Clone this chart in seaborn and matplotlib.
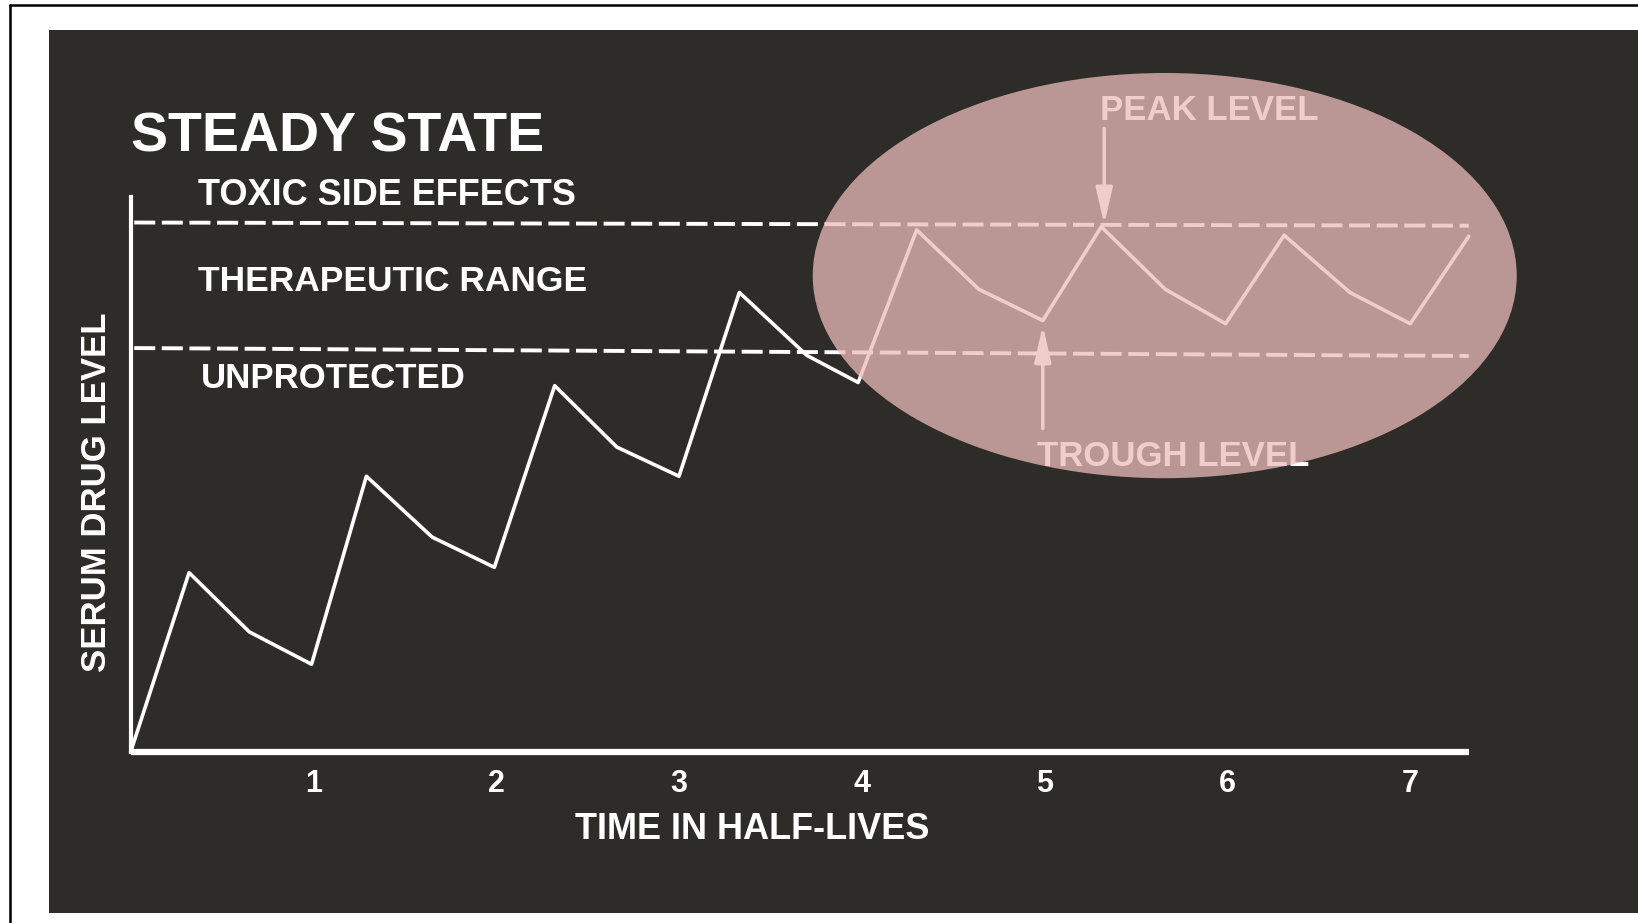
import matplotlib
matplotlib.use("Agg")
import matplotlib.pyplot as plt
import seaborn as sns
from matplotlib.patches import Ellipse
from matplotlib.lines import Line2D

# --- data (time in half-lives, serum level in arbitrary units) ---
half_lives = [0, 0.32, 0.65, 0.99, 1.29, 1.65, 1.99, 2.32, 2.66, 3.0, 3.33, 3.70,
              3.98, 4.30, 4.64, 4.99, 5.31, 5.66, 5.99, 6.31, 6.67, 7.0, 7.32]
serum_level = [0, 33.9, 22.7, 16.6, 52.1, 40.6, 34.9, 69.2, 57.6, 52.1, 86.8, 74.9,
               69.8, 98.6, 87.4, 81.5, 99.2, 87.4, 80.9, 97.6, 86.8, 80.9, 97.4]

band_x = [0.02, 7.32]
toxic_line = [100, 99.4]
therapeutic_low = [76.3, 74.8]

tick_pos = [1, 2, 3, 4, 5, 6, 7]
tick_labels = ["1", "2", "3", "4", "5", "6", "7"]

peak_t, peak_lvl = 5.326, 99.6
trough_t, trough_lvl = 4.99, 80.6

bg = "#2d2c28"
overlay = (235 / 255, 187 / 255, 185 / 255)

sns.set_style("white")
plt.rcParams["font.family"] = ["Liberation Sans", "DejaVu Sans"]

fig = plt.figure(figsize=(16.38, 9.23), dpi=100)
fig.patch.set_facecolor("white")
ax = fig.add_axes([0.0299, 0.0108, 0.9701, 0.9567])
ax.set_facecolor(bg)
ax.set_xlim(-0.4463, 8.2458)
ax.set_ylim(-30.37, 136.35)

# curve and range lines
sns.lineplot(x=half_lives, y=serum_level, ax=ax, color="white", lw=2.6, zorder=4)
ax.plot(band_x, toxic_line, color="white", lw=2.8, ls=(0, (5.4, 1.7)), zorder=4)
ax.plot(band_x, therapeutic_low, color="white", lw=2.8, ls=(0, (5.4, 1.7)), zorder=4)

# axes lines
for side in ["top", "right"]:
    ax.spines[side].set_visible(False)
ax.spines["left"].set_position(("data", 0))
ax.spines["left"].set_bounds(0, 104.9)
ax.spines["left"].set_color("white")
ax.spines["left"].set_linewidth(3)
ax.spines["bottom"].set_position(("data", 0))
ax.spines["bottom"].set_bounds(0, 7.32)
ax.spines["bottom"].set_color("white")
ax.spines["bottom"].set_linewidth(4.5)
ax.spines["bottom"].set_capstyle("butt")

ax.set_xticks(tick_pos)
ax.set_xticklabels(tick_labels, fontsize=22, fontweight="bold", color="white")
ax.tick_params(axis="x", length=0, pad=12)
ax.set_yticks([])

ax.set_xlabel("TIME IN HALF-LIVES", fontsize=26, fontweight="bold", color="white")
ax.xaxis.set_label_coords(0.4424, 0.1147)
ax.xaxis.label.set_va("top")
ax.set_ylabel("SERUM DRUG LEVEL", fontsize=25, fontweight="bold", color="white")
ax.yaxis.set_label_coords(0.0405, 0.4768)

# labels
ax.text(0, 116.0, "STEADY STATE", fontsize=40, fontweight="bold", color="white",
        va="center", ha="left", zorder=5)
ax.text(0.371, 105.1, "TOXIC SIDE EFFECTS", fontsize=26, fontweight="bold",
        color="white", va="center", ha="left", zorder=5)
ax.text(0.371, 88.8, "THERAPEUTIC RANGE", fontsize=25.5, fontweight="bold",
        color="white", va="center", ha="left", zorder=5)
ax.text(0.383, 70.6, "UNPROTECTED", fontsize=25, fontweight="bold",
        color="white", va="center", ha="left", zorder=5)
ax.text(5.303, 121.1, "PEAK LEVEL", fontsize=25, fontweight="bold",
        color="white", va="center", ha="left", zorder=5)
ax.text(4.96, 55.8, "TROUGH LEVEL", fontsize=25, fontweight="bold",
        color="white", va="center", ha="left", zorder=5)

arrow = dict(arrowstyle="-|>,head_length=2.2,head_width=0.5", color="white",
             lw=2.5, shrinkA=0, shrinkB=0, mutation_scale=10)
ax.annotate("", xy=(peak_t, peak_lvl), xytext=(peak_t, 117.75),
            arrowprops=arrow, zorder=5)
ax.annotate("", xy=(trough_t, trough_lvl), xytext=(trough_t, 61.1),
            arrowprops=arrow, zorder=5)

# translucent highlight over the steady-state region
ax.add_patch(Ellipse((5.657, 89.98), 3.851, 76.5, facecolor=overlay,
                     alpha=0.75, lw=0, zorder=10))

# thin black frame on top and left of the page
fig.add_artist(Line2D([0.0058, 1], [0.9946, 0.9946], color="black", lw=1.8))
fig.add_artist(Line2D([0.0058, 0.0058], [0, 0.9946], color="black", lw=1.8))

fig.savefig("out.png", dpi=100, facecolor="white")
